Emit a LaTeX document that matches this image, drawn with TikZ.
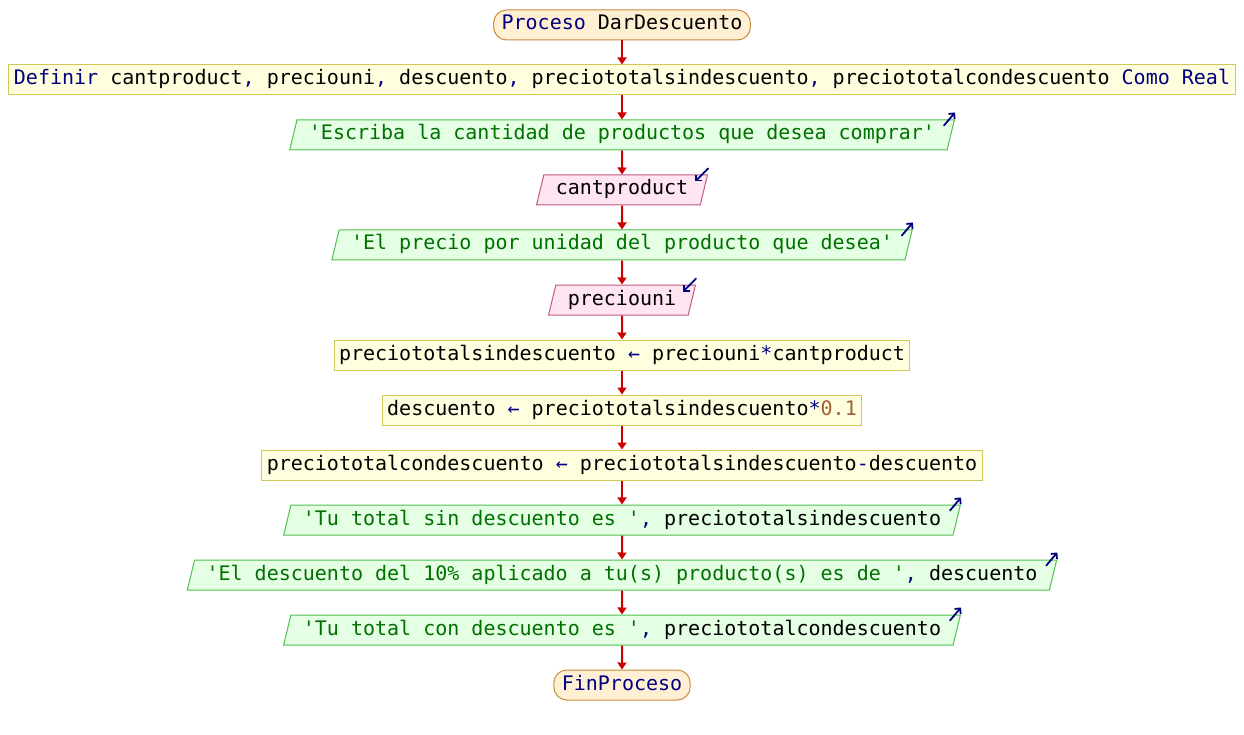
\documentclass[tikz,border=0pt]{standalone}
\usepackage{fontspec}
\setmonofont{DejaVu Sans Mono}
\usepackage{tikz}
\usetikzlibrary{shapes.geometric, arrows.meta}

\definecolor{kwblue}{HTML}{000080}
\definecolor{strgreen}{HTML}{007000}
\definecolor{numbrown}{HTML}{A06030}
\definecolor{flowred}{HTML}{CC0000}
\definecolor{termfill}{HTML}{FFF0D4}
\definecolor{termline}{HTML}{C88A3C}
\definecolor{procfill}{HTML}{FFFFE0}
\definecolor{procline}{HTML}{D2C85A}
\definecolor{outfill}{HTML}{E4FFE4}
\definecolor{outline}{HTML}{50C050}
\definecolor{infill}{HTML}{FFE4F2}
\definecolor{inline}{HTML}{C05A86}

\newcommand{\pkw}[1]{\textcolor{kwblue}{#1}}
\newcommand{\pstrg}[1]{\textcolor{strgreen}{#1}}
\newcommand{\pnum}[1]{\textcolor{numbrown}{#1}}

\tikzset{
  base/.style={font=\ttfamily\fontsize{20}{24}\selectfont, minimum height=30pt,
    text height=14pt, text depth=4pt, inner ysep=0pt},
  term/.style={base, draw=termline, fill=termfill, line width=1pt,
    rounded corners=13pt, inner xsep=8pt},
  proc/.style={base, draw=procline, fill=procfill, line width=1pt, inner xsep=5pt},
  outbox/.style={base, draw=outline, fill=outfill, line width=1pt, trapezium,
    trapezium left angle=68, trapezium right angle=112, trapezium stretches body,
    inner xsep=12pt},
  inbox/.style={outbox, draw=inline, fill=infill},
  flow/.style={draw=flowred, line width=2pt, -{Triangle[width=9pt,length=7pt]}},
  icon/.style={draw=kwblue, line width=1.8pt, line cap=round,
    -{Straight Barb[length=4pt,width=8pt,line width=1.8pt]}}
}

\begin{document}
\begin{tikzpicture}[x=1pt, y=-1pt]
\useasboundingbox (0,0) rectangle (1244,735);

\node[term] (start) at (622,25) {\pkw{Proceso} DarDescuento};
\node[proc] (def) at (622,80) {\pkw{Definir} cantproduct\pkw{,} preciouni\pkw{,} descuento\pkw{,} preciototalsindescuento\pkw{,} preciototalcondescuento \pkw{Como Real}};
\node[outbox] (msg1) at (622,135) {\pstrg{'Escriba la cantidad de productos que desea comprar'}};
\node[inbox] (in1) at (622,190) {cantproduct};
\node[outbox] (msg2) at (622,245) {\pstrg{'El precio por unidad del producto que desea'}};
\node[inbox] (in2) at (622,300) {preciouni};
\node[proc] (asg1) at (622,355) {preciototalsindescuento \pkw{←} preciouni\pkw{*}cantproduct};
\node[proc] (asg2) at (622,410) {descuento \pkw{←} preciototalsindescuento\pkw{*}\pnum{0.1}};
\node[proc] (asg3) at (622,465) {preciototalcondescuento \pkw{←} preciototalsindescuento\pkw{-}descuento};
\node[outbox] (out1) at (622,520) {\pstrg{'Tu total sin descuento es '}\pkw{,} preciototalsindescuento};
\node[outbox] (out2) at (622,575) {\pstrg{'El descuento del 10\% aplicado a tu(s) producto(s) es de '}\pkw{,} descuento};
\node[outbox] (out3) at (622,630) {\pstrg{'Tu total con descuento es '}\pkw{,} preciototalcondescuento};
\node[term] (fin) at (622,685) {\pkw{FinProceso}};

% flujo
\draw[flow] (start) -- (def);
\draw[flow] (def) -- (msg1);
\draw[flow] (msg1) -- (in1);
\draw[flow] (in1) -- (msg2);
\draw[flow] (msg2) -- (in2);
\draw[flow] (in2) -- (asg1);
\draw[flow] (asg1) -- (asg2);
\draw[flow] (asg2) -- (asg3);
\draw[flow] (asg3) -- (out1);
\draw[flow] (out1) -- (out2);
\draw[flow] (out2) -- (out3);
\draw[flow] (out3) -- (fin);

% iconos de escritura / lectura
\draw[icon] ([xshift=-11pt,yshift=-6pt]msg1.top right corner) -- ([yshift=7pt]msg1.top right corner);
\draw[icon] ([xshift=-11pt,yshift=-6pt]msg2.top right corner) -- ([yshift=7pt]msg2.top right corner);
\draw[icon] ([xshift=-11pt,yshift=-6pt]out1.top right corner) -- ([yshift=7pt]out1.top right corner);
\draw[icon] ([xshift=-11pt,yshift=-6pt]out2.top right corner) -- ([yshift=7pt]out2.top right corner);
\draw[icon] ([xshift=-11pt,yshift=-6pt]out3.top right corner) -- ([yshift=7pt]out3.top right corner);
\draw[icon] ([yshift=6pt]in1.top right corner) -- ([xshift=-13pt,yshift=-7pt]in1.top right corner);
\draw[icon] ([yshift=6pt]in2.top right corner) -- ([xshift=-13pt,yshift=-7pt]in2.top right corner);

\end{tikzpicture}
\end{document}
